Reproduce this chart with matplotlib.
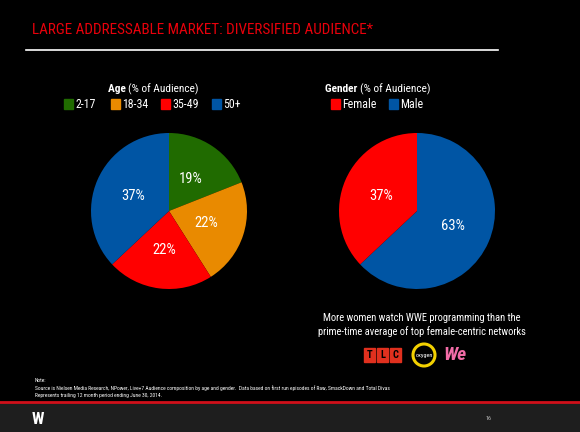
import matplotlib.pyplot as plt
from matplotlib import font_manager as fm
from matplotlib.patches import Rectangle, Circle

# prefer a narrow face like the slide's; fall back to Liberation Sans at smaller size
narrow = None
for name in ["Liberation Sans Narrow", "Roboto Condensed", "Open Sans Condensed",
             "DejaVu Sans Condensed"]:
    try:
        fm.findfont(fm.FontProperties(family=name), fallback_to_default=False)
        narrow = name
        break
    except ValueError:
        pass

if narrow:
    plt.rcParams['font.family'] = [narrow, 'Liberation Sans', 'DejaVu Sans']
    s = 1.0
else:
    plt.rcParams['font.family'] = ['Liberation Sans', 'DejaVu Sans']
    s = 0.8

# data
age_labels = ["2-17", "18-34", "35-49", "50+"]
age_values = [19, 22, 22, 37]
age_colors = ["#206b00", "#e98a00", "#ff0000", "#0055a4"]

gender_labels = ["Female", "Male"]
gender_values = [37, 63]
gender_colors = ["#ff0000", "#0055a4"]

W, H = 580, 432
fig = plt.figure(figsize=(5.8, 4.32), dpi=100, facecolor="black")
ax = fig.add_axes([0, 0, 1, 1])
ax.set_xlim(0, W)
ax.set_ylim(H, 0)
ax.axis("off")
ax.set_facecolor("black")

# title + rule
ax.text(32, 30, "LARGE ADDRESSABLE MARKET: DIVERSIFIED AUDIENCE*", color="#e8000b",
        fontsize=10.9 * s, va="center", ha="left")
ax.plot([26, 498], [50, 50], color="white", lw=1.2)


def pie_axes(cx, cy, r):
    return fig.add_axes([(cx - r) / W, (H - cy - r) / H, 2 * r / W, 2 * r / H])


def draw_pie(axp, values, colors):
    axp.pie(values, colors=colors, startangle=90, counterclock=False,
            autopct="%d%%", pctdistance=0.5,
            textprops=dict(color="white", fontsize=10.5 * s))
    axp.set_xlim(-1, 1)
    axp.set_ylim(-1, 1)
    axp.set_aspect("equal")
    axp.axis("off")


# age pie
ax_age = pie_axes(169, 211, 78)
draw_pie(ax_age, age_values, age_colors)

# gender pie (male drawn first clockwise from top)
ax_gen = pie_axes(417, 211, 78)
draw_pie(ax_gen, gender_values[::-1], gender_colors[::-1])


def legend_row(title_bold, cx, items, y_title=89, y_items=104):
    ax.text(cx, y_title, title_bold + " ", color="white", fontsize=8.2 * s,
            fontweight="bold", ha="right", va="center")
    ax.text(cx, y_title, "(% of Audience)", color="white", fontsize=8.2 * s,
            ha="left", va="center")
    for x, lab, col in items:
        ax.add_patch(Rectangle((x, y_items - 5), 9, 10, color=col))
        ax.text(x + 11, y_items, lab, color="white", fontsize=8.6 * s, va="center", ha="left")


legend_row("Age", 128, [(64, age_labels[0], age_colors[0]),
                        (111, age_labels[1], age_colors[1]),
                        (161, age_labels[2], age_colors[2]),
                        (212, age_labels[3], age_colors[3])])
legend_row("Gender", 360, [(331, gender_labels[0], gender_colors[0]),
                           (389, gender_labels[1], gender_colors[1])])

# caption
ax.text(422, 318, "More women watch WWE programming than the", color="white",
        fontsize=7.6 * s, ha="center", va="center")
ax.text(422, 332, "prime-time average of top female-centric networks", color="white",
        fontsize=7.6 * s, ha="center", va="center")

# network logos
for i, ch in enumerate("TLC"):
    x0 = 364 + i * 13
    ax.add_patch(Rectangle((x0, 348), 11, 14, color="#e0301e"))
    ax.text(x0 + 5.5, 355, ch, color="black", fontsize=7.5, fontweight="bold",
            ha="center", va="center")
ax.add_patch(Circle((424, 355), 11, fill=False, ec="#f2d000", lw=2.2))
ax.text(424, 355, "oxygen", color="white", fontsize=4.5, ha="center", va="center")
ax.text(455, 355, "We", color="#f26ca7", fontsize=14, fontweight="bold",
        fontstyle="italic", ha="center", va="center")

# note
ax.text(35, 380, "Note:", color="white", fontsize=4.0 * s, va="center")
ax.text(35, 388, "Source is Nielsen Media Research, NPower, Live+7 Audience composition by age and gender.  "
        "Data based on first run episodes of Raw, SmackDown and Total Divas",
        color="white", fontsize=4.0 * s, va="center")
ax.text(35, 396, "Represents trailing 12 month period ending June 30, 2014.",
        color="white", fontsize=4.0 * s, va="center")

# footer bar
ax.add_patch(Rectangle((0, 403), W, 29, color="#1e1e1e"))
ax.plot([0, W], [402, 402], color="#d0101a", lw=2)
ax.text(38, 419, "W", color="white", fontsize=12, fontweight="bold", ha="center", va="center")
ax.text(489, 418, "16", color="#bbbbbb", fontsize=4.5, ha="center", va="center")

fig.savefig("out.png", dpi=100, facecolor="black")
